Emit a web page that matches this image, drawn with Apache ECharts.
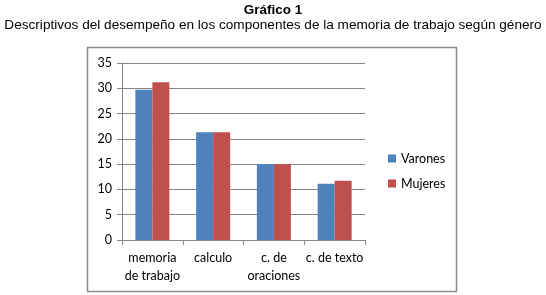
<!DOCTYPE html>
<html><head><meta charset="utf-8">
<script src="https://cdn.jsdelivr.net/npm/echarts@6/dist/echarts.min.js"></script>
<style>html,body{margin:0;padding:0;background:#fff}#c{width:546px;height:295px}</style>
</head><body><div id="c"></div>
<script>
const categories = ['memoria\nde trabajo', 'calculo', 'c. de\noraciones', 'c. de texto'];
const varones = [29.7, 21.3, 15.0, 11.1];
const mujeres = [31.2, 21.3, 15.0, 11.7];
const seriesNames = ['Varones', 'Mujeres'];

const chart = echarts.init(document.getElementById('c'), null, {renderer: 'canvas'});
const axisFont = {fontFamily: 'Lato, "Open Sans", sans-serif', fontSize: 12.5, color: '#000'};
chart.setOption({
  animation: false,
  title: [
    {text: 'Gráfico 1', left: 'center', top: -2, textStyle: {fontFamily: 'Liberation Sans, Arial', fontSize: 13.5, fontWeight: 'bold', color: '#000'}},
    {text: 'Descriptivos del desempeño en los componentes de la memoria de trabajo según género', left: 'center', top: 13, textStyle: {fontFamily: 'Liberation Sans, Arial', fontSize: 13.6, fontWeight: 'normal', color: '#000'}}
  ],
  graphic: [{type: 'rect', shape: {x: 87.5, y: 47.5, width: 369, height: 244}, style: {fill: 'none', stroke: '#8c8c8c', lineWidth: 1.5}, z: -1}],
  legend: {
    orient: 'vertical', left: 383, top: 147, itemWidth: 8, itemHeight: 8, itemGap: 12, icon: 'rect',
    textStyle: Object.assign({}, axisFont, {fontSize: 12.5}),
    data: seriesNames
  },
  grid: {left: 122, right: 181, top: 63, bottom: 55, containLabel: false},
  xAxis: {
    type: 'category', data: categories,
    axisLine: {lineStyle: {color: '#868686'}},
    axisTick: {show: true, alignWithLabel: false, lineStyle: {color: '#868686'}, length: 5},
    axisLabel: Object.assign({}, axisFont, {margin: 9, lineHeight: 18, interval: 0})
  },
  yAxis: {
    type: 'value', min: 0, max: 35, interval: 5,
    axisLine: {show: true, lineStyle: {color: '#868686'}},
    axisTick: {show: true, length: 5, lineStyle: {color: '#868686'}},
    splitLine: {lineStyle: {color: '#868686'}},
    axisLabel: Object.assign({}, axisFont, {margin: 10})
  },
  series: [
    {name: 'Varones', type: 'bar', data: varones, barGap: '0%', barCategoryGap: '44%', itemStyle: {color: '#4F81BD'}},
    {name: 'Mujeres', type: 'bar', data: mujeres, barGap: '0%', barCategoryGap: '44%', itemStyle: {color: '#C0504D'}}
  ]
});
</script></body></html>
